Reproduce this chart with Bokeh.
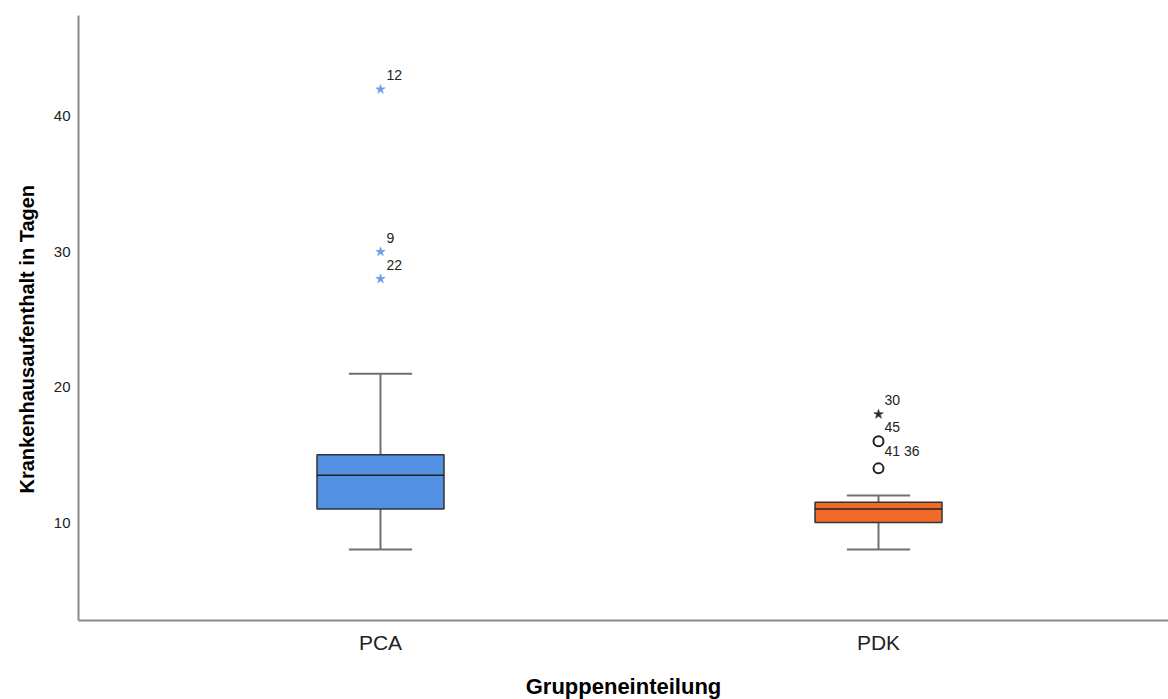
from bokeh.plotting import figure
from bokeh.models import Range1d, FixedTicker, ColumnDataSource, Title
from bokeh.core.properties import value
from bokeh.embed import file_html
from bokeh.resources import INLINE

# ---- data ----
groups = ["PCA", "PDK"]
lower_whisker = [8, 8]
q1 = [11, 10]
median = [13.5, 11]
q3 = [15, 11.5]
upper_whisker = [21, 12]

out_group = ["PCA", "PCA", "PCA", "PDK", "PDK", "PDK"]
out_value = [42, 30, 28, 18, 16, 14]
out_label = ["12", "9", "22", "30", "45", "41 36"]
out_kind = ["extreme", "extreme", "extreme", "extreme", "mild", "mild"]

y_ticks = [10, 20, 30, 40]
x_title = "Gruppeneinteilung"
y_title = "Krankenhausaufenthalt in Tagen"

box_colors = ["#5391e2", "#f26a2a"]
star_colors = {"PCA": "#6a9ee8", "PDK": "#2b2b2b"}

FONT = "Liberation Sans"

# ---- figure ----
p = figure(frame_width=1090, frame_height=605, output_backend="svg", toolbar_location=None,
           x_range=Range1d(0.3936, 2.5823), y_range=Range1d(2.76, 47.46),
           min_border_left=78, min_border_top=15, min_border_right=0, min_border_bottom=79)
p.outline_line_color = None
p.xgrid.visible = False
p.ygrid.visible = False
p.background_fill_color = "white"

xpos = [i + 1 for i in range(len(groups))]
gx = {g: i + 1 for i, g in enumerate(groups)}
box_w = 0.255
cap_w = 0.127

src = ColumnDataSource(dict(x=xpos, lw=lower_whisker, q1=q1, med=median, q3=q3,
                            uw=upper_whisker, color=box_colors,
                            cl=[x - cap_w / 2 for x in xpos], cr=[x + cap_w / 2 for x in xpos],
                            bl=[x - box_w / 2 for x in xpos], br=[x + box_w / 2 for x in xpos]))

# whiskers
p.segment(x0="x", y0="q3", x1="x", y1="uw", source=src, line_color="#707070", line_width=2)
p.segment(x0="x", y0="lw", x1="x", y1="q1", source=src, line_color="#707070", line_width=2)
p.segment(x0="cl", y0="uw", x1="cr", y1="uw", source=src, line_color="#707070", line_width=2)
p.segment(x0="cl", y0="lw", x1="cr", y1="lw", source=src, line_color="#707070", line_width=2)
# boxes
p.vbar(x="x", width=box_w, bottom="q1", top="q3", source=src, fill_color="color",
       line_color="#333333", line_width=1.5)
p.segment(x0="bl", y0="med", x1="br", y1="med", source=src, line_color="#222222", line_width=1.5)

# outliers
ox = [gx[g] for g in out_group]
ext = [i for i, k in enumerate(out_kind) if k == "extreme"]
mild = [i for i, k in enumerate(out_kind) if k == "mild"]
p.scatter(x=[ox[i] for i in ext], y=[out_value[i] for i in ext], marker="star",
          size=10, fill_color=[star_colors[out_group[i]] for i in ext],
          line_color=[star_colors[out_group[i]] for i in ext], line_width=0.5)
p.scatter(x=[ox[i] for i in mild], y=[out_value[i] for i in mild], marker="circle",
          size=10, fill_color=None, line_color="#222222", line_width=2)
p.text(x=ox, y=out_value, text=out_label, x_offset=6, y_offset=-9,
       text_baseline="bottom", text_align="left", text_font=value(FONT),
       text_font_size="14px", text_color="#222222")

# axes
p.xaxis.ticker = FixedTicker(ticks=xpos)
p.xaxis.major_label_overrides = {x: g for x, g in zip(xpos, groups)}
p.xaxis.axis_label = x_title
p.yaxis.ticker = FixedTicker(ticks=y_ticks)

for ax in (p.xaxis[0], p.yaxis[0]):
    ax.axis_line_color = "#8a8a8a"
    ax.axis_line_width = 2
    ax.major_tick_line_color = None
    ax.minor_tick_line_color = None
    ax.major_tick_out = 0
    ax.major_tick_in = 0
    ax.minor_tick_out = 0
    ax.minor_tick_in = 0
    ax.major_label_text_font = FONT
    ax.major_label_text_color = "#222222"
    ax.axis_label_text_font = FONT
    ax.axis_label_text_font_style = "bold"
    ax.axis_label_text_color = "#000000"

p.yaxis.major_label_text_font_size = "15px"
p.yaxis.major_label_standoff = 8

p.xaxis.major_label_text_font_size = "21px"
p.xaxis.major_label_standoff = 10
p.xaxis.axis_label_text_font_size = "22px"
p.xaxis.axis_label_standoff = 17

# y-axis title (placed in the left panel, shifted slightly downward as in the reference)
yt = Title(text=y_title, align="left", offset=127, text_font=FONT, text_font_size="20px",
           text_font_style="bold", text_color="#000000", standoff=25)
p.add_layout(yt, "left")

open("out.html", "w").write(file_html(p, INLINE))
